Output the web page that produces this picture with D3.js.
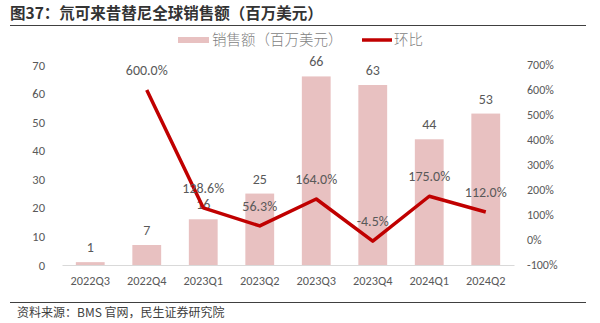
<!DOCTYPE html>
<html>
<head>
<meta charset="utf-8">
<script src="https://cdn.jsdelivr.net/npm/d3@7"></script>
<style>
  html, body { margin: 0; padding: 0; background: #fff; }
  svg { display: block; font-family: "Microsoft YaHei", "Noto Sans CJK SC", sans-serif; }
</style>
</head>
<body>
<svg id="chart" width="600" height="323"></svg>
<script>
// Quarterly global sales of deucravacitinib (USD mn) and quarter-on-quarter growth
const quarters = ["2022Q3", "2022Q4", "2023Q1", "2023Q2", "2023Q3", "2023Q4", "2024Q1", "2024Q2"];
const sales = [1, 7, 16, 25, 66, 63, 44, 53];
const qoq = [null, 600.0, 128.6, 56.3, 164.0, -4.5, 175.0, 112.0];
const leftTicks = [0, 10, 20, 30, 40, 50, 60, 70];
const rightTicks = [-100, 0, 100, 200, 300, 400, 500, 600, 700];

const svg = d3.select("#chart");
const gray = "#595959";
const barColor = "#E8C1C1";
const lineColor = "#C00000";
const latin = "Calibri, Carlito, 'Liberation Sans', sans-serif";

const plot = { left: 62, right: 514, top: 65, bottom: 265 };

const x = d3.scaleBand().domain(quarters).range([plot.left, plot.right]).paddingInner(0.49).paddingOuter(0.245);
const yL = d3.scaleLinear().domain([0, 70]).range([plot.bottom, plot.top]);
const yR = d3.scaleLinear().domain([-100, 700]).range([plot.bottom, plot.top]);
const cx = q => x(q) + x.bandwidth() / 2;

// Title and rules
svg.append("text").attr("x", 10).attr("y", 19)
  .attr("font-size", 15.5).attr("font-weight", "bold").attr("fill", "#333333")
  .text("图37：氘可来昔替尼全球销售额（百万美元）");
svg.append("line").attr("x1", 10).attr("x2", 586).attr("y1", 25.5).attr("y2", 25.5)
  .attr("stroke", "#404040").attr("stroke-width", 1.2);
svg.append("line").attr("x1", 10).attr("x2", 586).attr("y1", 302.5).attr("y2", 302.5)
  .attr("stroke", "#404040").attr("stroke-width", 1.2);
svg.append("text").attr("x", 17).attr("y", 317)
  .attr("font-size", 12).attr("fill", "#404040")
  .text("资料来源：BMS 官网，民生证券研究院");

// Legend
const lg = svg.append("g");
lg.append("rect").attr("x", 178).attr("y", 37).attr("width", 31).attr("height", 6).attr("fill", barColor);
lg.append("text").attr("x", 212).attr("y", 45).attr("font-size", 14.5).attr("font-weight", 300)
  .attr("fill", "#7F7F7F").text("销售额（百万美元）");
lg.append("line").attr("x1", 362).attr("x2", 392).attr("y1", 40).attr("y2", 40)
  .attr("stroke", lineColor).attr("stroke-width", 3.5);
lg.append("text").attr("x", 394).attr("y", 45).attr("font-size", 14.5).attr("font-weight", 300)
  .attr("fill", "#7F7F7F").text("环比");

// Left axis
const axL = svg.append("g").attr("transform", `translate(${plot.left},0)`)
  .call(d3.axisLeft(yL).tickValues(leftTicks).tickSize(0).tickPadding(17).tickFormat(d3.format("d")));
axL.select(".domain").remove();
axL.selectAll("text").attr("font-size", 12.5).attr("fill", gray).attr("font-family", latin);

// Right axis
const axR = svg.append("g").attr("transform", `translate(${plot.right},0)`)
  .call(d3.axisRight(yR).tickValues(rightTicks).tickSize(0).tickPadding(13).tickFormat(d => d + "%"));
axR.select(".domain").remove();
axR.selectAll("text").attr("font-size", 12).attr("fill", gray).attr("font-family", latin);

// Bars
svg.append("g").selectAll("rect").data(quarters).join("rect")
  .attr("x", d => x(d)).attr("width", x.bandwidth())
  .attr("y", (d, i) => yL(sales[i])).attr("height", (d, i) => yL(0) - yL(sales[i]))
  .attr("fill", barColor);

// Category axis
const axB = svg.append("g").attr("transform", `translate(0,${plot.bottom})`)
  .call(d3.axisBottom(x).tickSize(0).tickPadding(11));
axB.select(".domain").attr("stroke", "#D9D9D9").attr("stroke-width", 1);
axB.selectAll("text").attr("font-size", 12.3).attr("fill", gray).attr("font-family", latin);

// Bar value labels
svg.append("g").selectAll("text").data(quarters).join("text")
  .attr("x", d => cx(d))
  .attr("y", (d, i) => yL(sales[i]) - 10)
  .attr("text-anchor", "middle").attr("font-size", 14).attr("fill", gray)
  .attr("font-family", latin)
  .text((d, i) => sales[i]);

// Growth line
const pts = quarters.map((q, i) => ({ q, v: qoq[i] })).filter(p => p.v !== null);
const line = d3.line().x(p => cx(p.q)).y(p => yR(p.v));
svg.append("path").datum(pts).attr("d", line)
  .attr("fill", "none").attr("stroke", lineColor).attr("stroke-width", 3.5)
  .attr("stroke-linejoin", "round");

// Growth labels
svg.append("g").selectAll("text").data(pts).join("text")
  .attr("x", p => cx(p.q))
  .attr("y", p => yR(p.v) - 15)
  .attr("text-anchor", "middle").attr("font-size", 14).attr("fill", gray)
  .attr("font-family", latin)
  .text(p => p.v.toFixed(1) + "%");
</script>
</body>
</html>
